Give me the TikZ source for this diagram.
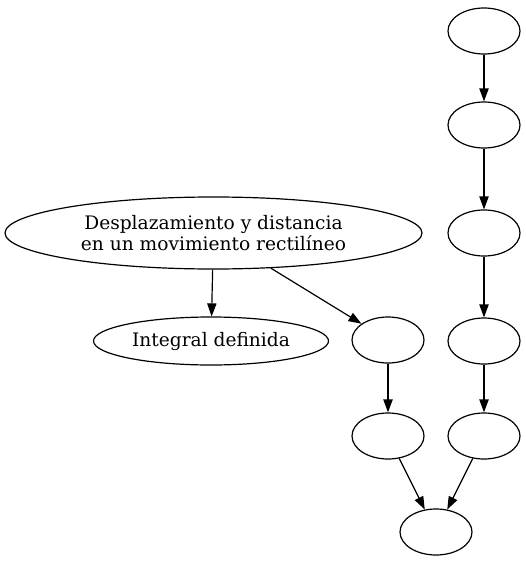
\documentclass[tikz,border=0pt]{standalone}
\usepackage{fontspec}
\setmainfont{DejaVu Serif}
\usetikzlibrary{shapes.geometric,arrows.meta}
\begin{document}
\begin{tikzpicture}[x=1pt,y=-1pt,
  nd/.style={draw,ellipse,line width=1.2pt,inner sep=0pt,minimum width=72pt,minimum height=46pt,font=\fontsize{18.6pt}{20.5pt}\selectfont,align=center},
  edge/.style={draw,line width=1.2pt,-{Triangle[length=13pt,width=9.3pt]}}]
\useasboundingbox (0,0) rectangle (526,562);
\node[nd,minimum width=417pt,minimum height=72pt] (big) at (213.5,233) {Desplazamiento y distancia\\ en un movimiento rectilíneo};
\node[nd,minimum width=235pt,minimum height=48pt] (int) at (211,341) {Integral definida};
\node[nd] (m1) at (388,340) {};
\node[nd] (m2) at (388,436) {};
\node[nd] (b) at (436,532) {};
\node[nd] (r1) at (484,31) {};
\node[nd] (r2) at (484,125) {};
\node[nd] (r3) at (484,233) {};
\node[nd] (r4) at (484,341) {};
\node[nd] (r5) at (484,436) {};
\draw[edge] (big) -- (int);
\draw[edge] (big) -- (m1);
\draw[edge] (m1) -- (m2);
\draw[edge] (m2) -- (b);
\draw[edge] (r5) -- (b);
\draw[edge] (r1) -- (r2);
\draw[edge] (r2) -- (r3);
\draw[edge] (r3) -- (r4);
\draw[edge] (r4) -- (r5);
\end{tikzpicture}
\end{document}
